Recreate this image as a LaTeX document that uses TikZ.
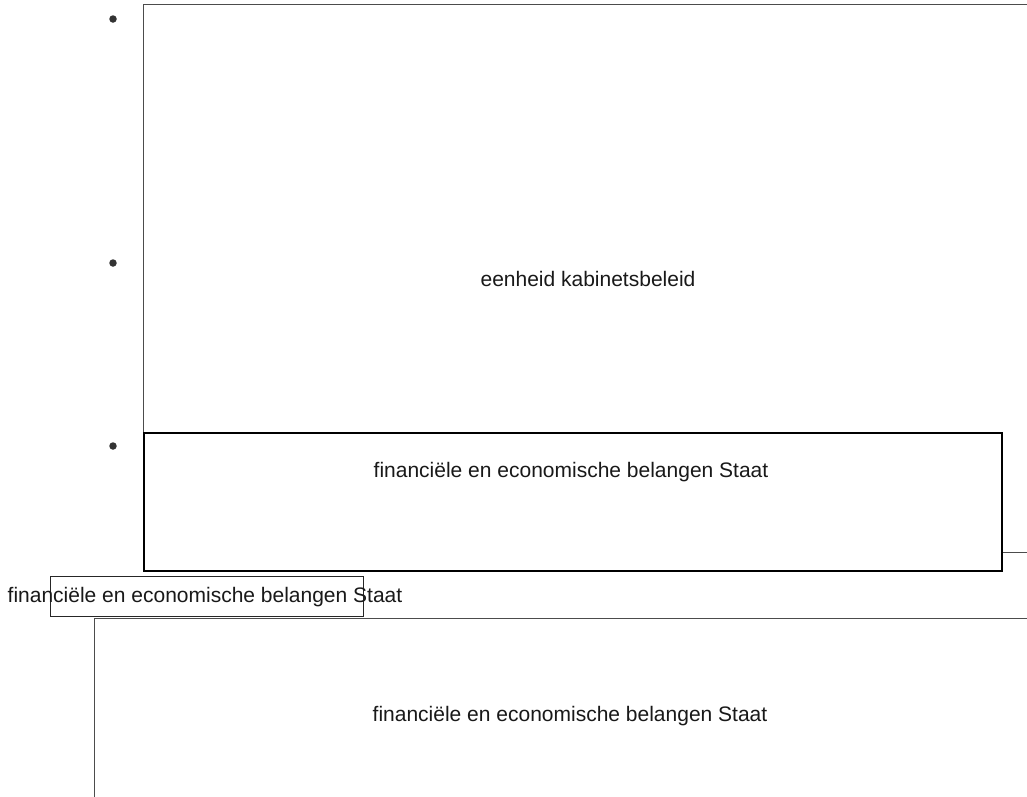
\documentclass[tikz,border=0pt]{standalone}
\usepackage{fontspec}
\setmainfont{Liberation Sans}
\begin{document}
\begin{tikzpicture}[x=1pt,y=-1pt,
  lbl/.style={inner sep=0pt,font=\fontsize{21}{24}\selectfont,text=black!90},
  graybox/.style={draw=black!70,line width=1.3pt,fill=white,inner sep=0pt,anchor=north west},
  blackbox/.style={draw=black,line width=1.8pt,fill=white,inner sep=0pt,anchor=north west},
  dot/.style={circle,fill=black!80,inner sep=0pt,minimum size=7.5pt}]
\useasboundingbox (0,0) rectangle (1027,796);
\clip (0,0) rectangle (1027,796);
\fill[white] (0,0) rectangle (1027,796);
% bullets
\node[dot] (d1) at (113,19) {};
\node[dot] (d2) at (113,263) {};
\node[dot] (d3) at (113,446) {};
% box 1
\node[graybox,minimum width=890pt,minimum height=548pt] (b1) at (143,4) {};
\node[lbl] (t1) at (588,279) {eenheid kabinetsbeleid};
% box 2
\node[blackbox,minimum width=858pt,minimum height=138pt] (b2) at (143,432) {};
\node[lbl] (t2) at (571,472) {financiële en economische belangen Staat};
% small label box
\node[graybox,draw=black!85,minimum width=313pt,minimum height=40pt] (b4) at (50,576) {};
\node[lbl] (t4) at (205,597) {financiële en economische belangen Staat};
% box 3
\node[graybox,minimum width=952pt,minimum height=200pt] (b3) at (94,618) {};
\node[lbl] (t3) at (570,716) {financiële en economische belangen Staat};
\end{tikzpicture}
\end{document}
